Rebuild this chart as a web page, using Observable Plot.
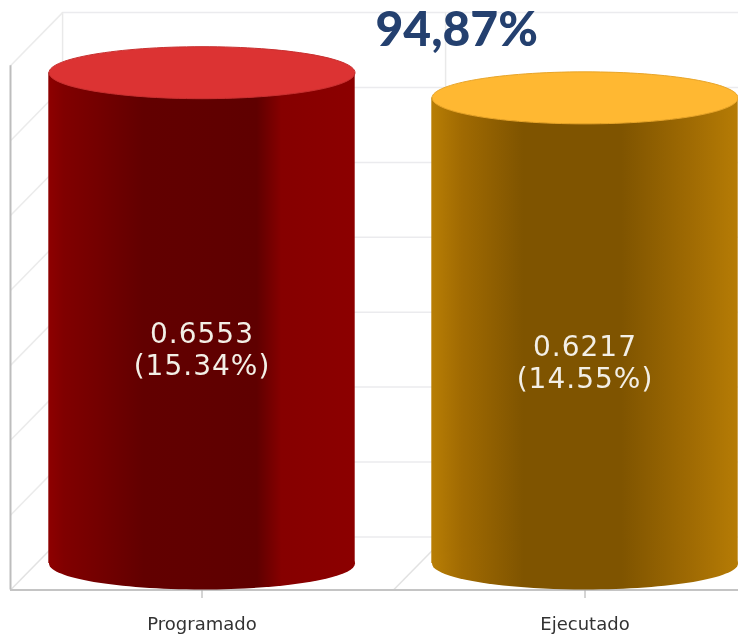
<!DOCTYPE html>
<html>
<head>
<meta charset="utf-8">
<script src="https://cdn.jsdelivr.net/npm/d3@7"></script>
<script src="https://cdn.jsdelivr.net/npm/@observablehq/plot@0.6"></script>
<style>
html,body{margin:0;padding:0;background:#fff;overflow:hidden}
svg{display:block}
.vals text,text.vals,.vals{letter-spacing:1px}
</style>
</head>
<body>
<div id="chart"></div>
<script>
const categories = ["Programado", "Ejecutado"];
const values = [0.6553, 0.6217];
const shares = ["15.34%", "14.55%"];
const headline = "94,87%";
const yTicks = [0, 0.1, 0.2, 0.3, 0.4, 0.5, 0.6, 0.7];
const xWalls = [-0.5, 0.5, 1.5];
const sideFills = ["url(#sideRed)", "url(#sideGold)"];
const capFills = ["#dc3333", "#ffb832"];
const capEdges = ["#c83030", "#e8a52a"];
const depthX = 0.136, depthY = 0.0355;

const rows = categories.map((c, i) => ({
  i, c, v: values[i],
  label: `${values[i]}\n(${shares[i]})`,
  side: sideFills[i], cap: capFills[i], edge: capEdges[i]
}));

// flattened circle: a cylinder cap seen in perspective
const ellipse = {
  draw(ctx, size) {
    const rx = Math.sqrt(size / Math.PI), ry = rx * 26 / 153, k = 0.5523;
    ctx.moveTo(-rx, 0);
    ctx.bezierCurveTo(-rx, -ry * k, -rx * k, -ry, 0, -ry);
    ctx.bezierCurveTo(rx * k, -ry, rx, -ry * k, rx, 0);
    ctx.bezierCurveTo(rx, ry * k, rx * k, ry, 0, ry);
    ctx.bezierCurveTo(-rx * k, ry, -rx, ry * k, -rx, 0);
    ctx.closePath();
  }
};

function gradient(id, stops) {
  return `<linearGradient id="${id}" x1="0" x2="1" y1="0" y2="0">` +
    stops.map(([o, c]) => `<stop offset="${o}" stop-color="${c}"/>`).join("") +
    `</linearGradient>`;
}
const defs = () => {
  const g = document.createElementNS("http://www.w3.org/2000/svg", "defs");
  g.innerHTML =
    gradient("sideRed", [[0, "#8e0000"], [0.05, "#800000"], [0.16, "#740000"], [0.31, "#620000"], [0.68, "#5f0000"], [0.76, "#860000"], [1, "#8c0000"]]) +
    gradient("sideGold", [[0, "#b87e05"], [0.1, "#a06a02"], [0.3, "#7f5400"], [0.62, "#7f5400"], [0.85, "#a06b03"], [1, "#b67c05"]]);
  return g;
};

const plot = Plot.plot({
  width: 738,
  height: 634,
  marginTop: 0, marginLeft: 0, marginRight: 0, marginBottom: 44,
  style: {background: "#fff", filter: "blur(0.5px)"},
  x: {domain: [-0.5, 1.5], range: [10, 776], axis: null},
  y: {domain: [0, 0.7], range: [563, 38.7], axis: null},
  marks: [
    defs,
    // back wall
    Plot.ruleY(yTicks, {x1: -0.5 + depthX, x2: 1.5 + depthX, y: d => d + depthY, stroke: "#ebebee", strokeWidth: 1.5}),
    Plot.ruleX(xWalls.slice(0, 2), {x: d => d + depthX, y1: depthY, y2: 0.7 + depthY, stroke: "#e9e9e9", strokeWidth: 1.5}),
    // left wall and floor diagonals
    Plot.link(yTicks.slice(1), {x1: -0.5, x2: -0.5 + depthX, y1: d => d - depthY, y2: d => d + depthY, stroke: "#ebebeb", strokeWidth: 1.5}),
    Plot.link(xWalls, {x1: d => d, x2: d => d + depthX, y1: -depthY, y2: depthY, stroke: "#e2e2e2", strokeWidth: 1.5}),
    // front edges
    Plot.ruleX([-0.5], {y1: -depthY, y2: 0.7 - depthY, stroke: "#bdbdbd", strokeWidth: 2}),
    Plot.ruleY([-depthY], {x1: -0.5, x2: 1.5, stroke: "#c4c4c4", strokeWidth: 2}),
    Plot.axisX({
      ticks: [0, 1], tickFormat: i => categories[i], tickSize: 8, tickPadding: 19, label: null,
      stroke: "#aaa", fill: "#333", fontSize: 18, fontFamily: "DejaVu Sans", marginBottom: 44
    }),
    // cylinders
    Plot.rectY(rows, {x1: d => d.i - 0.4, x2: d => d.i + 0.4, y1: 0, y2: "v", fill: "side"}),
    Plot.dot(rows, {x: "i", y: 0, r: 153, symbol: ellipse, fill: "side", stroke: null}),
    Plot.dot(rows, {x: "i", y: "v", r: 153, symbol: ellipse, fill: "cap", stroke: "edge", strokeWidth: 1}),
    Plot.text(rows, {
      x: "i", y: d => d.v / 2, dy: 31, text: "label", fill: "#f3efe6", className: "vals",
      fontFamily: "DejaVu Sans", fontSize: 28, lineHeight: 1.14, textAnchor: "middle"
    }),
    Plot.text([headline], {
      x: 0.665, y: 0.712, text: d => d, fill: "#24406f",
      fontFamily: "Lato", fontWeight: 900, fontSize: 48, textAnchor: "middle"
    })
  ]
});
document.getElementById("chart").appendChild(plot);
</script>
</body>
</html>
